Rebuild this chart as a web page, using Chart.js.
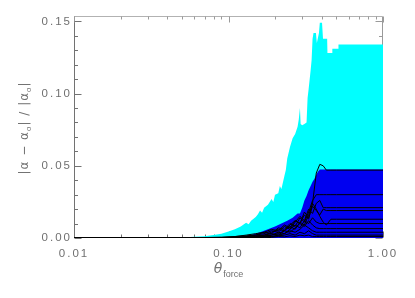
<!DOCTYPE html>
<html>
<head>
<meta charset="utf-8">
<script src="https://cdn.jsdelivr.net/npm/chart.js@4/dist/chart.umd.min.js"></script>
<style>
  html, body { margin: 0; padding: 0; background: #fff; }
  #wrap { width: 415px; height: 298px; }
</style>
</head>
<body>
<div id="wrap"><canvas id="chart" width="415" height="298"></canvas></div>
<script>
// DATA

// upper envelope (cyan)
const cyanX = [0.01, 0.04, 0.05, 0.06, 0.07, 0.08, 0.09, 0.10,
  0.11, 0.12, 0.13, 0.135, 0.14, 0.15, 0.155, 0.16, 0.165, 0.17, 0.18,
  0.19, 0.195, 0.20, 0.21, 0.215, 0.22, 0.23, 0.235, 0.24, 0.25, 0.26,
  0.27, 0.28, 0.285, 0.29, 0.293, 0.30, 0.31, 0.32, 0.325, 0.33,
  0.34, 0.345, 0.35, 0.355, 0.368, 0.373, 0.385, 0.39, 0.403, 0.409,
  0.435, 0.437, 0.468, 0.47, 0.512, 0.515, 1.00];
const cyanY = [0, 0, 0.0003, 0.0008, 0.0012, 0.002, 0.003, 0.0045,
  0.006, 0.008, 0.0105, 0.0095, 0.012, 0.0145, 0.0165, 0.019, 0.0175, 0.021, 0.023,
  0.027, 0.025, 0.030, 0.031, 0.036, 0.034, 0.043, 0.047, 0.055, 0.063, 0.069,
  0.072, 0.077, 0.082, 0.090, 0.079, 0.078, 0.079, 0.080, 0.097, 0.103,
  0.116, 0.123, 0.138, 0.142, 0.142, 0.135, 0.142, 0.149, 0.149, 0.138,
  0.138, 0.128, 0.128, 0.131, 0.131, 0.134, 0.134];

// inner envelope (blue)
const blueX = [0.01, 0.10, 0.12, 0.14, 0.16, 0.18, 0.20, 0.22, 0.24, 0.26, 0.28, 0.29,
  0.30, 0.31, 0.32, 0.33, 0.34, 0.35, 0.36, 0.37, 0.38, 0.39, 1.00];
const blueY = [0, 0.0002, 0.0008, 0.002, 0.004, 0.006, 0.008, 0.010, 0.012, 0.014, 0.017, 0.017,
  0.021, 0.026, 0.029, 0.033, 0.036, 0.039, 0.041, 0.044, 0.046, 0.0475, 0.0475];

// individual runs (black lines), all on the same theta grid
const lineX = [0.01, 0.05, 0.07, 0.09, 0.11, 0.13, 0.15, 0.17, 0.19, 0.21, 0.23, 0.25,
  0.27, 0.29, 0.31, 0.33, 0.35, 0.37, 0.39, 0.41, 0.43, 0.46, 0.50, 1.00];
const run1 = [0, 0, 0.0003, 0.0006, 0.001, 0.002, 0.003, 0.004, 0.006, 0.005, 0.009, 0.007,
  0.012, 0.010, 0.016, 0.013, 0.024, 0.045, 0.051, 0.050, 0.047, 0.047, 0.047, 0.047];
const run2 = [0, 0, 0, 0.0003, 0.001, 0.0015, 0.002, 0.004, 0.003, 0.007, 0.006, 0.010,
  0.008, 0.014, 0.011, 0.018, 0.026, 0.030, 0.030, 0.030, 0.030, 0.030, 0.030, 0.030];
const run3 = [0, 0, 0, 0, 0.0005, 0.001, 0.002, 0.003, 0.005, 0.004, 0.008, 0.006,
  0.011, 0.015, 0.012, 0.020, 0.017, 0.024, 0.026, 0.021, 0.021, 0.021, 0.021, 0.021];
const run4 = [0, 0, 0, 0, 0.0005, 0.001, 0.0015, 0.002, 0.004, 0.006, 0.005, 0.009,
  0.012, 0.010, 0.018, 0.014, 0.022, 0.019, 0.016, 0.020, 0.019, 0.019, 0.019, 0.019];
const run5 = [0, 0, 0, 0, 0, 0.0005, 0.001, 0.002, 0.003, 0.002, 0.005, 0.008,
  0.006, 0.011, 0.009, 0.016, 0.024, 0.020, 0.015, 0.011, 0.009, 0.013, 0.013, 0.013];
const run6 = [0, 0, 0, 0, 0, 0.0005, 0.001, 0.0015, 0.002, 0.004, 0.003, 0.006,
  0.009, 0.007, 0.012, 0.010, 0.014, 0.011, 0.010, 0.010, 0.010, 0.010, 0.010, 0.010];
const run7 = [0, 0, 0, 0, 0, 0, 0.0005, 0.001, 0.002, 0.003, 0.005, 0.004,
  0.007, 0.010, 0.008, 0.012, 0.009, 0.007, 0.0065, 0.0065, 0.0065, 0.0065, 0.0065, 0.0065];
const run8 = [0, 0, 0, 0, 0, 0, 0.0005, 0.001, 0.001, 0.002, 0.003, 0.005,
  0.004, 0.006, 0.009, 0.007, 0.005, 0.004, 0.004, 0.004, 0.004, 0.004, 0.004, 0.004];
const run9 = [0, 0, 0, 0, 0, 0, 0, 0.0005, 0.001, 0.0015, 0.002, 0.003,
  0.002, 0.004, 0.003, 0.005, 0.003, 0.002, 0.002, 0.002, 0.002, 0.002, 0.002, 0.002];
const run10 = [0, 0, 0, 0, 0, 0, 0, 0, 0.0005, 0.001, 0.0008, 0.0015,
  0.001, 0.002, 0.0015, 0.002, 0.001, 0.001, 0.001, 0.001, 0.001, 0.001, 0.001, 0.001];
const runs = [run1, run2, run3, run4, run5, run6, run7, run8, run9, run10];

// axis ticks
const xMajorTicks = [0.01, 0.1, 1];
const xMinorTicks = [0.02, 0.03, 0.04, 0.05, 0.06, 0.07, 0.08, 0.09,
  0.2, 0.3, 0.4, 0.5, 0.6, 0.7, 0.8, 0.9];
const yMajorTicks = [0, 0.05, 0.10, 0.15];
const yMinorTicks = [0.01, 0.02, 0.03, 0.04, 0.06, 0.07, 0.08, 0.09,
  0.11, 0.12, 0.13, 0.14];
const Y_MAX = 0.1537;

const TEXT_COLOR = "#707070";
const TICK_FONT = "'Liberation Sans', Arial, sans-serif";
const TITLE_FONT = "'DejaVu Sans', sans-serif";

// HELPERS
function pairs(xs, ys) {
  return xs.map((x, i) => ({ x, y: ys[i] }));
}

// frame + inward ticks, drawn under the data like the original plot
const framePlugin = {
  id: "frame",
  beforeDatasetsDraw(chart) {
    const { ctx, chartArea: a, scales: { x, y } } = chart;
    const L = Math.round(a.left) + 0.5, R = Math.round(a.right) - 0.5;
    const T = Math.round(a.top) + 0.5, B = Math.round(a.bottom) - 0.5;
    ctx.save();
    ctx.lineWidth = 1;

    function seg(x1, y1, x2, y2, color) {
      ctx.strokeStyle = color;
      ctx.beginPath();
      ctx.moveTo(x1, y1);
      ctx.lineTo(x2, y2);
      ctx.stroke();
    }

    seg(L, T, R, T, "#b2b2b2");
    seg(R, T, R, B, "#9a9a9a");
    seg(L, T, L, B, "#727272");
    seg(L, B, R, B, "#222");

    xMajorTicks.concat(xMinorTicks).forEach(v => {
      const px = Math.round(x.getPixelForValue(v)) + 0.5;
      const len = xMajorTicks.includes(v) ? 6 : 3;
      seg(px, B, px, B - len, "#727272");
      seg(px, T, px, T + len, "#9a9a9a");
    });

    yMajorTicks.concat(yMinorTicks).forEach(v => {
      const py = Math.round(y.getPixelForValue(v)) + 0.5;
      const len = yMajorTicks.includes(v) ? 7 : 3.5;
      seg(L, py, L + len, py, "#727272");
      seg(R, py, R - len, py, "#9a9a9a");
    });
    ctx.restore();
  }
};

// axis titles with subscripts
function drawParts(ctx, parts, cx, baseline) {
  let total = 0;
  parts.forEach(p => {
    ctx.font = p.font;
    p.w = ctx.measureText(p.t).width + (p.gap || 0);
    total += p.w;
  });
  let xPos = cx - total / 2;
  parts.forEach(p => {
    ctx.font = p.font;
    ctx.fillText(p.t, xPos, baseline + (p.dy || 0));
    xPos += p.w;
  });
}

const titlePlugin = {
  id: "titles",
  afterDraw(chart) {
    const { ctx, chartArea: a } = chart;
    ctx.save();
    ctx.fillStyle = TEXT_COLOR;
    ctx.textBaseline = "alphabetic";
    ctx.textAlign = "left";

    // x title: theta_force
    ctx.letterSpacing = "0px";
    drawParts(ctx, [
      { t: "θ", font: "italic 14px " + TITLE_FONT, gap: 1 },
      { t: "force", font: "9px " + TICK_FONT, dy: 4 }
    ], (a.left + a.right) / 2, 273);

    // y title: |alpha - alpha_o| / |alpha_o|
    ctx.letterSpacing = "1px";
    ctx.translate(28, (a.top + a.bottom) / 2 + 1);
    ctx.rotate(-Math.PI / 2);
    const big = "12px " + TITLE_FONT, sub = "8px " + TICK_FONT;
    drawParts(ctx, [
      { t: "|α − α", font: big },
      { t: "o", font: sub, dy: 3 },
      { t: "| / |α", font: big },
      { t: "o", font: sub, dy: 3 },
      { t: "|", font: big }
    ], 0, 0);
    ctx.restore();
  }
};

// letter spacing for the wide tick labels
const spacingPlugin = {
  id: "spacing",
  beforeDraw(chart) {
    chart.ctx.letterSpacing = "2px";
  }
};

// CHART
const datasets = [];

runs.forEach(run => {
  datasets.push({
    data: pairs(lineX, run),
    borderColor: "#000",
    borderWidth: 1,
    pointRadius: 0,
    fill: false,
    order: 1
  });
});

datasets.push({
  data: pairs(blueX, blueY),
  borderColor: "#0000f0",
  backgroundColor: "#0000f0",
  borderWidth: 0,
  pointRadius: 0,
  fill: "origin",
  order: 2
});

datasets.push({
  data: pairs(cyanX, cyanY),
  borderColor: "#00ffff",
  backgroundColor: "#00ffff",
  borderWidth: 0,
  pointRadius: 0,
  fill: "origin",
  order: 3
});

new Chart(document.getElementById("chart"), {
  type: "line",
  data: { datasets },
  options: {
    responsive: false,
    animation: false,
    devicePixelRatio: 1,
    layout: { padding: { left: 0, top: 16, right: 32, bottom: 0 } },
    plugins: {
      legend: { display: false },
      tooltip: { enabled: false }
    },
    scales: {
      x: {
        type: "logarithmic",
        min: 0.01,
        max: 1,
        grid: { display: false, drawTicks: false },
        border: { display: false },
        afterBuildTicks: scale => { scale.ticks = xMajorTicks.map(v => ({ value: v })); },
        afterFit: scale => { scale.height = 60; },
        ticks: {
          color: TEXT_COLOR,
          padding: 9,
          maxRotation: 0,
          autoSkip: false,
          font: { family: TICK_FONT, size: 11.5 },
          callback: v => Number(v).toFixed(2)
        }
      },
      y: {
        min: 0,
        max: Y_MAX,
        grid: { display: false, drawTicks: false },
        border: { display: false },
        afterBuildTicks: scale => { scale.ticks = yMajorTicks.map(v => ({ value: v })); },
        afterFit: scale => { scale.width = 74; },
        ticks: {
          color: TEXT_COLOR,
          padding: 2,
          font: { family: TICK_FONT, size: 11.5 },
          callback: v => Number(v).toFixed(2)
        }
      }
    }
  },
  plugins: [spacingPlugin, framePlugin, titlePlugin]
});
</script>
</body>
</html>
